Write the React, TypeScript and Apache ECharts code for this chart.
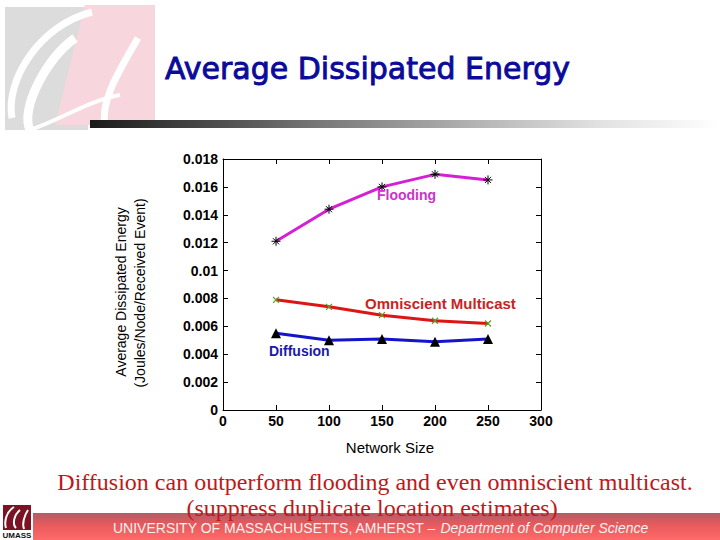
import React, { useEffect, useRef } from "react";
import * as echarts from "echarts";

const networkSizes = [50, 100, 150, 200, 250];
const flooding = [0.0121, 0.0144, 0.0160, 0.0169, 0.0165];
const omniscient = [0.0079, 0.0074, 0.0068, 0.0064, 0.0062];
const diffusion = [0.0055, 0.0050, 0.0051, 0.0049, 0.0051];
const yTickLabels = ["0", "0.002", "0.004", "0.006", "0.008", "0.01", "0.012", "0.014", "0.016", "0.018"];
const xTickLabels = ["0", "50", "100", "150", "200", "250", "300"];

const ASTERISK = "path://M5 0L5 10M0 5L10 5M1.6 1.6L8.4 8.4M1.6 8.4L8.4 1.6";
const CROSS = "path://M0 0L10 10M0 10L10 0";

export default function App() {
  const ref = useRef<HTMLDivElement>(null);
  useEffect(() => {
    if (!ref.current) return;
    const chart = echarts.init(ref.current, null, { renderer: "svg" });
    const axisFont = { fontFamily: "Liberation Sans, Arial, sans-serif", fontWeight: "bold" as const, fontSize: 14, color: "#000" };
    const xBase = {
      type: "value" as const,
      min: 0,
      max: 300,
      interval: 50,
      splitLine: { show: false },
      axisLine: { show: true, onZero: false, lineStyle: { color: "#000", width: 1 } },
      axisTick: { show: true, inside: true, length: 5, lineStyle: { color: "#000" } },
    };
    const yBase = {
      type: "value" as const,
      min: 0,
      max: 0.018,
      interval: 0.002,
      splitLine: { show: false },
      axisLine: { show: true, onZero: false, lineStyle: { color: "#000", width: 1 } },
      axisTick: { show: true, inside: true, length: 5, lineStyle: { color: "#000" } },
    };
    const toPairs = (arr: number[]) => arr.map((v, i) => [networkSizes[i], v]);
    const captionStyle = {
      fontFamily: "Liberation Serif, Times New Roman, serif",
      fontSize: 24,
      fill: "#c01818",
      align: "center",
      verticalAlign: "middle",
      textShadowColor: "rgba(90,0,0,0.35)",
      textShadowOffsetX: 1,
      textShadowOffsetY: 1,
      textShadowBlur: 0,
    };

    chart.setOption({
      animation: false,
      backgroundColor: "#ffffff",
      grid: { left: 223, right: 179, top: 159, bottom: 130, containLabel: false },
      xAxis: [
        {
          ...xBase,
          position: "bottom",
          axisLabel: { ...axisFont, margin: 4, formatter: (v: number) => xTickLabels[Math.round(v / 50)] },
        },
        { ...xBase, position: "top", axisLabel: { show: false } },
      ],
      yAxis: [
        {
          ...yBase,
          position: "left",
          axisLabel: { ...axisFont, margin: 5, formatter: (v: number) => yTickLabels[Math.round(v / 0.002)] },
        },
        { ...yBase, position: "right", axisLabel: { show: false } },
      ],
      series: [
        {
          name: "Flooding",
          type: "line",
          data: toPairs(flooding),
          symbol: ASTERISK,
          symbolSize: 9,
          lineStyle: { color: "#d41fd4", width: 3 },
          itemStyle: { color: "#000", borderColor: "#000", borderWidth: 1 },
        },
        {
          name: "Omniscient Multicast",
          type: "line",
          data: toPairs(omniscient),
          symbol: CROSS,
          symbolSize: 6,
          lineStyle: { color: "#dd1515", width: 3 },
          itemStyle: { color: "#5f9a2a", borderColor: "#5f9a2a", borderWidth: 1.2 },
        },
        {
          name: "Diffusion",
          type: "line",
          data: toPairs(diffusion),
          symbol: "triangle",
          symbolSize: 10,
          lineStyle: { color: "#1414cc", width: 3 },
          itemStyle: { color: "#000" },
        },
      ],
      graphic: [
        // logo background
        { type: "polygon", z: 0, shape: { points: [[5, 7], [90, 7], [88, 130], [5, 130]] }, style: { fill: "#dcdcdc" } },
        { type: "polygon", z: 1, shape: { points: [[85, 5], [155, 5], [155, 125], [55, 125]] }, style: { fill: "#f8d6dd" } },
        { type: "bezierCurve", z: 2, shape: { x1: 92, y1: 12, x2: 12, y2: 118, cpx1: 40, cpy1: 25, cpx2: 5, cpy2: 80 }, style: { stroke: "#fff", lineWidth: 7, fill: "none" } },
        { type: "bezierCurve", z: 2, shape: { x1: 75, y1: 38, x2: 30, y2: 130, cpx1: 45, cpy1: 60, cpx2: 20, cpy2: 110 }, style: { stroke: "#fff", lineWidth: 9, fill: "none" } },
        { type: "bezierCurve", z: 2, shape: { x1: 138, y1: 38, x2: 105, y2: 126, cpx1: 120, cpy1: 70, cpx2: 100, cpy2: 100 }, style: { stroke: "#fff", lineWidth: 7, fill: "none" } },
        { type: "bezierCurve", z: 2, shape: { x1: 30, y1: 130, x2: 120, y2: 95, cpx1: 60, cpy1: 120, cpx2: 90, cpy2: 100 }, style: { stroke: "#fff", lineWidth: 4, fill: "none" } },
        // title
        {
          type: "text", z: 5, x: 165, y: 68,
          style: { text: "Average Dissipated Energy", fontFamily: "DejaVu Sans, sans-serif", fontSize: 30, fill: "#0b0b9a", stroke: "#0b0b9a", lineWidth: 0.9, verticalAlign: "middle", align: "left" },
        },
        // gradient bar
        {
          type: "rect", z: 3, shape: { x: 90, y: 120, width: 630, height: 8 },
          style: {
            fill: new echarts.graphic.LinearGradient(0, 0, 1, 0, [
              { offset: 0, color: "#1a1a1a" },
              { offset: 0.4, color: "#808080" },
              { offset: 0.8, color: "#e0e0e0" },
              { offset: 1, color: "#ffffff" },
            ]),
          },
        },
        // y axis name
        {
          type: "text", z: 5, x: 121, y: 292, rotation: Math.PI / 2,
          style: { text: "Average Dissipated Energy", fontFamily: "Liberation Sans, Arial, sans-serif", fontSize: 14, fill: "#000", align: "center", verticalAlign: "middle" },
        },
        {
          type: "text", z: 5, x: 140, y: 293, rotation: Math.PI / 2,
          style: { text: "(Joules/Node/Received Event)", fontFamily: "Liberation Sans, Arial, sans-serif", fontSize: 14, fill: "#000", align: "center", verticalAlign: "middle" },
        },
        // x axis name
        {
          type: "text", z: 5, x: 390, y: 447,
          style: { text: "Network Size", fontFamily: "Liberation Sans, Arial, sans-serif", fontSize: 15, fill: "#000", align: "center", verticalAlign: "middle" },
        },
        // series labels
        {
          type: "text", z: 10, x: 377, y: 195,
          style: { text: "Flooding", fontFamily: "Liberation Sans, Arial, sans-serif", fontWeight: "bold", fontSize: 14, fill: "#cc33cc", align: "left", verticalAlign: "middle" },
        },
        {
          type: "text", z: 10, x: 365, y: 303,
          style: { text: "Omniscient Multicast", fontFamily: "Liberation Sans, Arial, sans-serif", fontWeight: "bold", fontSize: 15, fill: "#cc2222", align: "left", verticalAlign: "middle" },
        },
        {
          type: "text", z: 10, x: 269, y: 351,
          style: { text: "Diffusion", fontFamily: "Liberation Sans, Arial, sans-serif", fontWeight: "bold", fontSize: 14, fill: "#1a1aaa", align: "left", verticalAlign: "middle" },
        },
        // footer bar
        {
          type: "rect", z: 3, shape: { x: 33, y: 513, width: 687, height: 27 },
          style: {
            fill: new echarts.graphic.LinearGradient(0, 0, 0, 1, [
              { offset: 0, color: "#b45c68" },
              { offset: 0.45, color: "#e85a5c" },
              { offset: 1, color: "#ff6a6a" },
            ]),
          },
        },
        // caption
        { type: "text", z: 6, x: 375, y: 482, style: { ...captionStyle, text: "Diffusion can outperform flooding and even omniscient multicast." } },
        { type: "text", z: 6, x: 372, y: 508, style: { ...captionStyle, text: "(suppress duplicate location estimates)" } },
        // footer text
        {
          type: "text", z: 7, x: 113, y: 528,
          style: {
            text: "{a|UNIVERSITY OF MASSACHUSETTS, AMHERST – }{b|Department of Computer Science}",
            align: "left",
            verticalAlign: "middle",
            rich: {
              a: { fontFamily: "Liberation Sans, Arial, sans-serif", fontSize: 14, fill: "#f2f2f2", color: "#f2f2f2" },
              b: { fontFamily: "Liberation Sans, Arial, sans-serif", fontSize: 14, fontStyle: "italic", fill: "#f2f2f2", color: "#f2f2f2" },
            },
          },
        },
        // UMASS small logo
        { type: "rect", z: 4, shape: { x: 3, y: 505, width: 28, height: 25 }, style: { fill: "#7a1424" } },
        { type: "bezierCurve", z: 5, shape: { x1: 14, y1: 507, x2: 6, y2: 528, cpx1: 6, cpy1: 512, cpx2: 4, cpy2: 522 }, style: { stroke: "#fff", lineWidth: 2, fill: "none" } },
        { type: "bezierCurve", z: 5, shape: { x1: 20, y1: 510, x2: 16, y2: 528, cpx1: 14, cpy1: 515, cpx2: 12, cpy2: 524 }, style: { stroke: "#fff", lineWidth: 2, fill: "none" } },
        { type: "bezierCurve", z: 5, shape: { x1: 28, y1: 510, x2: 24, y2: 529, cpx1: 24, cpy1: 516, cpx2: 22, cpy2: 524 }, style: { stroke: "#fff", lineWidth: 2, fill: "none" } },
        {
          type: "text", z: 5, x: 17, y: 535,
          style: { text: "UMASS", fontFamily: "Liberation Sans, Arial, sans-serif", fontWeight: "bold", fontSize: 8, fill: "#111", align: "center", verticalAlign: "middle" },
        },
      ],
    });
    return () => chart.dispose();
  }, []);
  return <div ref={ref} style={{ position: "fixed", left: 0, top: 0, width: 720, height: 540 }} />;
}
